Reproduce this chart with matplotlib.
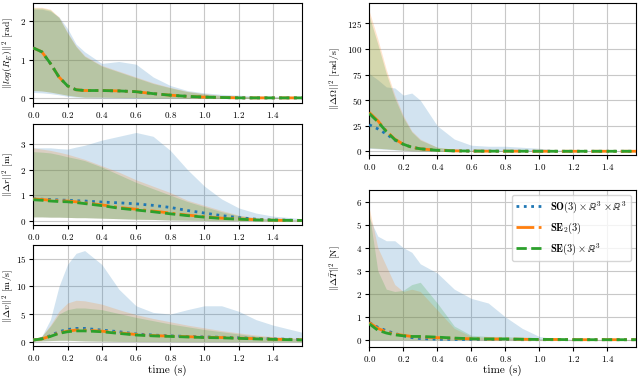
import matplotlib
matplotlib.use("Agg")
import matplotlib.pyplot as plt

plt.rcParams["font.family"] = "serif"
plt.rcParams["font.serif"] = ["cmr10", "DejaVu Serif"]
plt.rcParams["mathtext.fontset"] = "cm"
plt.rcParams["axes.formatter.use_mathtext"] = True
plt.rcParams["font.size"] = 8

# time samples (s)
T = [0, 0.05, 0.1, 0.15, 0.2, 0.25, 0.3, 0.4, 0.5, 0.6, 0.7, 0.8, 0.9, 1.0, 1.1, 1.2, 1.3, 1.4, 1.57]

# ||log(R_E)||^2
rot_mean_so = [1.3, 1.2, 0.9, 0.55, 0.32, 0.22, 0.2, 0.2, 0.19, 0.17, 0.12, 0.08, 0.05, 0.03, 0.02, 0.01, 0.01, 0.01, 0.01]
rot_mean_se2 = [1.3, 1.2, 0.9, 0.55, 0.32, 0.22, 0.2, 0.2, 0.19, 0.17, 0.12, 0.08, 0.05, 0.03, 0.02, 0.01, 0.01, 0.01, 0.01]
rot_mean_se3 = [1.3, 1.2, 0.9, 0.55, 0.32, 0.22, 0.2, 0.2, 0.19, 0.17, 0.12, 0.08, 0.05, 0.03, 0.02, 0.01, 0.01, 0.01, 0.01]
rot_hi_so = [2.3, 2.3, 2.25, 2.1, 1.8, 1.4, 1.2, 0.9, 0.95, 0.88, 0.55, 0.33, 0.2, 0.14, 0.1, 0.08, 0.06, 0.05, 0.05]
rot_hi_se2 = [2.35, 2.35, 2.3, 2.1, 1.7, 1.35, 1.1, 0.85, 0.7, 0.55, 0.4, 0.28, 0.18, 0.12, 0.07, 0.05, 0.04, 0.03, 0.02]
rot_hi_se3 = [2.33, 2.33, 2.28, 2.08, 1.68, 1.33, 1.08, 0.83, 0.68, 0.53, 0.38, 0.27, 0.17, 0.11, 0.07, 0.05, 0.04, 0.03, 0.02]
rot_lo_so = [0.15, 0.14, 0.12, 0.09, 0.05, 0.03, 0.02, 0.01, 0.01, 0, 0, 0, 0, 0, 0, 0, 0, 0, 0]
rot_lo_se2 = [0.2, 0.19, 0.16, 0.12, 0.08, 0.05, 0.03, 0.03, 0.02, 0.02, 0.01, 0.01, 0, 0, 0, 0, 0, 0, 0]
rot_lo_se3 = [0.2, 0.19, 0.16, 0.12, 0.08, 0.05, 0.03, 0.03, 0.02, 0.02, 0.01, 0.01, 0, 0, 0, 0, 0, 0, 0]

# ||Δr||^2
pos_mean_so = [0.85, 0.84, 0.83, 0.81, 0.8, 0.78, 0.77, 0.73, 0.7, 0.66, 0.6, 0.52, 0.4, 0.3, 0.2, 0.12, 0.06, 0.03, 0.01]
pos_mean_se2 = [0.85, 0.83, 0.8, 0.78, 0.77, 0.74, 0.7, 0.62, 0.52, 0.45, 0.38, 0.3, 0.22, 0.16, 0.1, 0.07, 0.04, 0.02, 0.01]
pos_mean_se3 = [0.82, 0.8, 0.77, 0.75, 0.74, 0.71, 0.67, 0.59, 0.49, 0.42, 0.35, 0.27, 0.2, 0.14, 0.09, 0.06, 0.03, 0.02, 0.01]
pos_hi_so = [2.85, 2.85, 2.85, 2.82, 2.8, 2.88, 2.95, 3.15, 3.3, 3.45, 3.3, 2.75, 2.0, 1.35, 0.85, 0.5, 0.3, 0.18, 0.08]
pos_hi_se2 = [2.85, 2.8, 2.75, 2.68, 2.6, 2.5, 2.4, 2.15, 1.9, 1.6, 1.35, 1.1, 0.8, 0.6, 0.4, 0.22, 0.12, 0.06, 0.03]
pos_hi_se3 = [2.7, 2.68, 2.65, 2.58, 2.5, 2.43, 2.35, 2.1, 1.8, 1.5, 1.25, 1.0, 0.75, 0.55, 0.35, 0.2, 0.1, 0.05, 0.02]
pos_lo_so = [0.15, 0.15, 0.14, 0.14, 0.13, 0.12, 0.12, 0.1, 0.08, 0.06, 0.05, 0.03, 0.02, 0.01, 0, 0, 0, 0, 0]
pos_lo_se2 = [0.15, 0.15, 0.14, 0.14, 0.13, 0.12, 0.12, 0.1, 0.08, 0.06, 0.05, 0.03, 0.02, 0.01, 0, 0, 0, 0, 0]
pos_lo_se3 = [0.15, 0.15, 0.14, 0.14, 0.13, 0.12, 0.12, 0.1, 0.08, 0.06, 0.05, 0.03, 0.02, 0.01, 0, 0, 0, 0, 0]

# ||Δv||^2
vel_mean_so = [0.3, 0.55, 1.1, 1.8, 2.2, 2.4, 2.4, 2.1, 1.8, 1.4, 1.2, 1.05, 0.95, 0.85, 0.8, 0.7, 0.6, 0.5, 0.38]
vel_mean_se2 = [0.3, 0.5, 1.0, 1.6, 1.9, 2.1, 2.1, 1.9, 1.6, 1.3, 1.1, 1.0, 0.9, 0.8, 0.75, 0.65, 0.55, 0.45, 0.35]
vel_mean_se3 = [0.3, 0.5, 0.95, 1.5, 1.8, 1.95, 1.95, 1.8, 1.5, 1.2, 1.05, 0.95, 0.85, 0.75, 0.7, 0.6, 0.5, 0.42, 0.32]
vel_hi_so = [0.5, 1.0, 4.0, 10.0, 14.0, 16.0, 16.5, 14.0, 9.5, 6.5, 5.3, 5.0, 5.8, 6.5, 6.5, 5.5, 4.0, 3.0, 1.7]
vel_hi_se2 = [0.5, 1.0, 3.0, 5.5, 7.0, 7.5, 7.4, 6.8, 5.8, 4.9, 4.2, 3.6, 3.0, 2.5, 2.0, 1.6, 1.2, 0.9, 0.6]
vel_hi_se3 = [0.5, 1.0, 2.8, 5.0, 5.8, 6.1, 6.1, 5.8, 5.1, 4.4, 3.8, 3.2, 2.7, 2.2, 1.8, 1.4, 1.0, 0.8, 0.5]
vel_lo_so = [0.1, 0.15, 0.2, 0.25, 0.25, 0.2, 0.15, 0.1, 0.05, 0.03, 0.02, 0.01, 0, 0, 0, 0, 0, 0, 0]
vel_lo_se2 = [0.1, 0.15, 0.2, 0.25, 0.25, 0.2, 0.15, 0.1, 0.05, 0.03, 0.02, 0.01, 0, 0, 0, 0, 0, 0, 0]
vel_lo_se3 = [0.1, 0.15, 0.2, 0.25, 0.25, 0.2, 0.15, 0.1, 0.05, 0.03, 0.02, 0.01, 0, 0, 0, 0, 0, 0, 0]

# ||ΔΩ||^2
ang_mean_so = [26, 22, 17, 11, 7, 4, 2.5, 1.0, 0.5, 0.3, 0.2, 0.2, 0.15, 0.1, 0.1, 0.1, 0.1, 0.1, 0.1]
ang_mean_se2 = [38, 30, 20, 12, 7, 4, 2.5, 1.0, 0.5, 0.3, 0.2, 0.2, 0.15, 0.1, 0.1, 0.1, 0.1, 0.1, 0.1]
ang_mean_se3 = [37, 29, 19.5, 11.5, 7, 4, 2.5, 1.0, 0.5, 0.3, 0.2, 0.2, 0.15, 0.1, 0.1, 0.1, 0.1, 0.1, 0.1]
ang_hi_so = [76, 70, 63, 62, 55, 57, 50, 25, 12, 6, 5, 5, 4, 3, 1.5, 0.8, 0.5, 0.3, 0.2]
ang_hi_se2 = [137, 110, 80, 55, 35, 20, 12, 4, 2, 1, 0.5, 0.4, 0.3, 0.2, 0.2, 0.1, 0.1, 0.1, 0.1]
ang_hi_se3 = [132, 105, 76, 52, 33, 19, 11, 4, 2, 1, 0.5, 0.4, 0.3, 0.2, 0.2, 0.1, 0.1, 0.1, 0.1]
ang_lo_so = [3, 2.5, 2, 1.5, 1, 0.5, 0.3, 0.1, 0, 0, 0, 0, 0, 0, 0, 0, 0, 0, 0]
ang_lo_se2 = [3.5, 3, 2.5, 1.8, 1.2, 0.6, 0.3, 0.1, 0, 0, 0, 0, 0, 0, 0, 0, 0, 0, 0]
ang_lo_se3 = [3.5, 3, 2.5, 1.8, 1.2, 0.6, 0.3, 0.1, 0, 0, 0, 0, 0, 0, 0, 0, 0, 0, 0]

# ||ΔT||^2
thr_mean_so = [0.75, 0.55, 0.4, 0.28, 0.18, 0.1, 0.06, 0.03, 0.02, 0.02, 0.02, 0.02, 0.01, 0.01, 0.01, 0.01, 0.01, 0.01, 0.01]
thr_mean_se2 = [0.75, 0.5, 0.35, 0.25, 0.2, 0.15, 0.13, 0.1, 0.07, 0.05, 0.04, 0.04, 0.03, 0.02, 0.02, 0.01, 0.01, 0.01, 0.01]
thr_mean_se3 = [0.7, 0.42, 0.3, 0.22, 0.18, 0.15, 0.15, 0.12, 0.08, 0.05, 0.04, 0.04, 0.03, 0.02, 0.02, 0.01, 0.01, 0.01, 0.01]
thr_hi_so = [5.3, 4.5, 4.3, 4.3, 4.0, 3.8, 3.3, 2.9, 2.2, 1.8, 1.6, 1.0, 0.5, 0.15, 0.05, 0.02, 0.02, 0.02, 0.02]
thr_hi_se2 = [5.7, 4.0, 3.2, 2.4, 2.1, 2.2, 2.1, 1.3, 0.5, 0.15, 0.1, 0.1, 0.05, 0.03, 0.02, 0.02, 0.02, 0.02, 0.02]
thr_hi_se3 = [5.5, 3.0, 2.2, 2.1, 2.15, 2.4, 2.5, 1.6, 0.6, 0.2, 0.15, 0.15, 0.1, 0.05, 0.03, 0.02, 0.02, 0.02, 0.02]
thr_lo_so = [0, 0, 0, 0, 0, 0, 0, 0, 0, 0, 0, 0, 0, 0, 0, 0, 0, 0, 0]
thr_lo_se2 = [0, 0, 0, 0, 0, 0, 0, 0, 0, 0, 0, 0, 0, 0, 0, 0, 0, 0, 0]
thr_lo_se3 = [0, 0, 0, 0, 0, 0, 0, 0, 0, 0, 0, 0, 0, 0, 0, 0, 0, 0, 0]

LABELS = [r"$\mathbf{SO}(3)\times\mathbb{R}^3\times\mathbb{R}^3$",
          r"$\mathbf{SE}_2(3)$",
          r"$\mathbf{SE}(3)\times\mathbb{R}^3$"]
COLORS = ["tab:blue", "tab:orange", "tab:green"]
STYLES = [":", "-.", "--"]

PANELS = [
    # rect, ylabel, ylim, yticks, means, highs, lows
    ([0.052, 0.727, 0.420, 0.265], r"$||log(R_E)||^2$ [rad]", (-0.12, 2.46), [0, 1, 2],
     [rot_mean_so, rot_mean_se2, rot_mean_se3], [rot_hi_so, rot_hi_se2, rot_hi_se3],
     [rot_lo_so, rot_lo_se2, rot_lo_se3]),
    ([0.052, 0.403, 0.420, 0.268], r"$||\Delta r||^2$ [m]", (-0.17, 3.78), [0, 1, 2, 3],
     [pos_mean_so, pos_mean_se2, pos_mean_se3], [pos_hi_so, pos_hi_se2, pos_hi_se3],
     [pos_lo_so, pos_lo_se2, pos_lo_se3]),
    ([0.052, 0.082, 0.420, 0.268], r"$||\Delta v||^2$ [m/s]", (-0.8, 17.5), [0, 5, 10, 15],
     [vel_mean_so, vel_mean_se2, vel_mean_se3], [vel_hi_so, vel_hi_se2, vel_hi_se3],
     [vel_lo_so, vel_lo_se2, vel_lo_se3]),
    ([0.577, 0.589, 0.417, 0.403], r"$||\Delta\Omega||^2$ [rad/s]", (-3.5, 145), [0, 25, 50, 75, 100, 125],
     [ang_mean_so, ang_mean_se2, ang_mean_se3], [ang_hi_so, ang_hi_se2, ang_hi_se3],
     [ang_lo_so, ang_lo_se2, ang_lo_se3]),
    ([0.577, 0.080, 0.417, 0.416], r"$||\Delta \bar{T}||^2$ [N]", (-0.3, 6.5), [0, 1, 2, 3, 4, 5, 6],
     [thr_mean_so, thr_mean_se2, thr_mean_se3], [thr_hi_so, thr_hi_se2, thr_hi_se3],
     [thr_lo_so, thr_lo_se2, thr_lo_se3]),
]

fig = plt.figure(figsize=(6.4, 3.77), dpi=100)

for i, (rect, ylabel, ylim, yticks, means, highs, lows) in enumerate(PANELS):
    ax = fig.add_axes(rect)
    for k in range(3):
        ax.fill_between(T, lows[k], highs[k], color=COLORS[k], alpha=0.2, linewidth=0)
    for k in range(3):
        ax.plot(T, means[k], STYLES[k], color=COLORS[k], lw=2, label=LABELS[k], zorder=3)
    ax.set_xlim(0, 1.57)
    ax.set_ylim(*ylim)
    ax.set_yticks(yticks)
    ax.set_xticks([0, 0.2, 0.4, 0.6, 0.8, 1.0, 1.2, 1.4])
    ax.tick_params(labelsize=6.5, length=3, pad=2)
    ax.set_ylabel(ylabel, fontsize=7)
    # fixed label column, as in the reference
    if i < 3:
        ax.yaxis.set_label_coords(-0.064, 0.5)
    else:
        ax.yaxis.set_label_coords(-0.097, 0.5)
    ax.grid(True, color="#c8c8c8", lw=0.8)
    ax.set_axisbelow(True)
    if i in (2, 4):
        ax.set_xlabel("time (s)", fontsize=8, labelpad=1)
    if i == 4:
        ax.legend(loc="upper right", fontsize=7.5, handlelength=2.5, framealpha=0.8)

plt.savefig("out.png", dpi=100)
plt.close()
